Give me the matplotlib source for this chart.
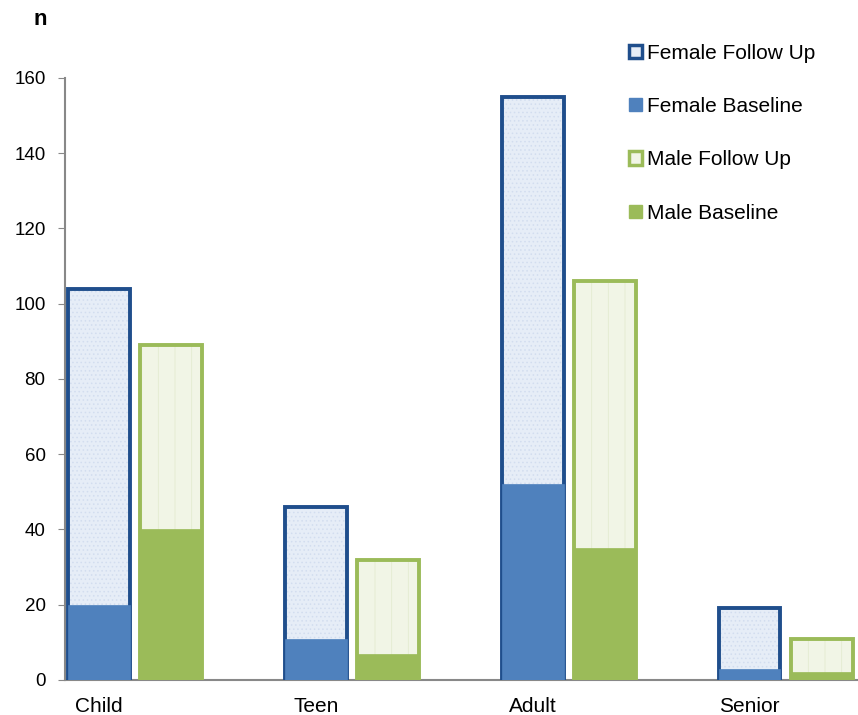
import matplotlib.pyplot as plt
import numpy as np
from matplotlib.patches import Patch

plt.rcParams['font.family'] = ['Liberation Sans', 'DejaVu Sans']
plt.rcParams['hatch.linewidth'] = 0.6

# data
categories = ['Child', 'Teen', 'Adult', 'Senior']
female_follow_up = [104, 46, 155, 19]
female_baseline = [20, 11, 52, 3]
male_follow_up = [89, 32, 106, 11]
male_baseline = [40, 7, 35, 2]

f_dark = '#1f4e8c'
f_mid = '#4f81bd'
f_light = '#e6edf7'
m_dark = '#9bbb59'
m_light = '#f1f5e6'

x = np.arange(len(categories))
w = 0.285
xm = x + 0.333

fig = plt.figure(figsize=(8.58, 7.15), dpi=100)
ax = fig.add_axes([0.0758, 0.049, 0.924, 0.842])

# follow up bars: light fill, faint texture, thick outline
ax.bar(x, female_follow_up, w, color=f_light, linewidth=0, zorder=2)
ax.bar(x, female_follow_up, w, color='none', edgecolor='#d2ddef', hatch='....',
       linewidth=0, zorder=2)
ax.bar(xm, male_follow_up, w, color=m_light, linewidth=0, zorder=2)
ax.bar(xm, male_follow_up, w, color='none', edgecolor='#e3ebd0', hatch='|',
       linewidth=0, zorder=2)
ax.bar(x, female_follow_up, w, color='none', edgecolor=f_dark, linewidth=2.8, zorder=3)
ax.bar(xm, male_follow_up, w, color='none', edgecolor=m_dark, linewidth=2.8, zorder=3)

# baseline bars on top
ax.bar(x, female_baseline, w, color=f_mid, edgecolor=f_mid, linewidth=0.5, zorder=4)
ax.bar(xm, male_baseline, w, color=m_dark, edgecolor=m_dark, linewidth=0.5, zorder=4)

ax.set_ylim(0, 160)
ax.set_xlim(-0.157, 3.5)
ax.set_yticks(range(0, 161, 20))
ax.set_xticks(x)
ax.set_xticklabels(categories, fontsize=15)
ax.tick_params(axis='x', length=0, pad=12)
ax.tick_params(axis='y', labelsize=13.5, length=5, color='#888888', direction='out', pad=9)

for s in ['top', 'right']:
    ax.spines[s].set_visible(False)
ax.spines['left'].set_color('#888888')
ax.spines['bottom'].set_color('#888888')
ax.spines['left'].set_linewidth(1.5)
ax.spines['bottom'].set_linewidth(1.5)

fig.text(0.047, 0.988, 'n', fontsize=16, fontweight='bold', ha='center', va='top')

handles = [
    Patch(facecolor=f_light, edgecolor=f_dark, linewidth=2.5),
    Patch(facecolor=f_mid, edgecolor=f_mid),
    Patch(facecolor=m_light, edgecolor=m_dark, linewidth=2.5),
    Patch(facecolor=m_dark, edgecolor=m_dark),
]
labels = ['Female Follow Up', 'Female Baseline', 'Male Follow Up', 'Male Baseline']
ax.legend(handles, labels, loc='upper left', bbox_to_anchor=(0.688, 1.088),
          frameon=False, fontsize=15, labelspacing=1.65, handlelength=0.62,
          handleheight=0.62, handletextpad=0.22)

fig.savefig('out.png', dpi=100)
